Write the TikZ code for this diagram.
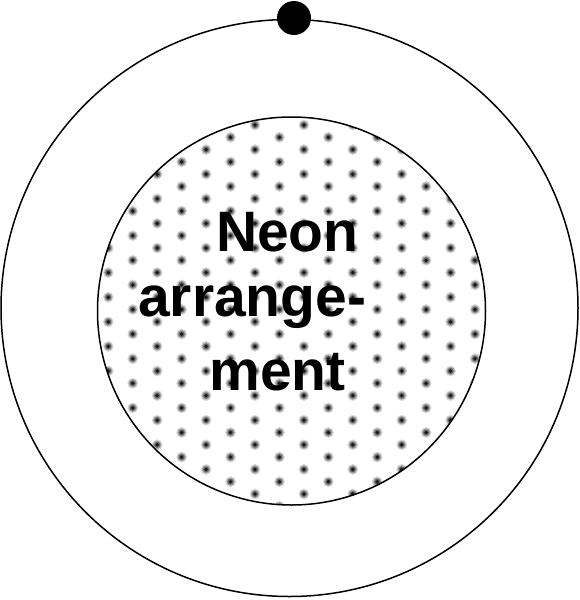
\documentclass[tikz,border=0pt]{standalone}
\usepackage{fontspec}
\setmainfont{Liberation Sans}
\begin{document}
\begin{tikzpicture}[x=1pt,y=-1pt,
  ring/.style={draw=black,line width=1.5pt},
  lbl/.style={anchor=base west,inner sep=0pt,font=\fontsize{57}{57}\selectfont\bfseries}]
\useasboundingbox (0,0) rectangle (580,600);
\fill[white] (0,0) rectangle (580,600);
% outer ring
\draw[ring] (289.5,308) circle[radius=288.5];
% inner dotted disc
\begin{scope}
\clip (291.5,311) circle[radius=194];
\foreach \k in {-2,...,32}{
  \foreach \c in {-5,...,5}{
    \pgfmathsetmacro{\xx}{255+\c*48.9+mod(abs(\k),2)*24.45}
    \pgfmathsetmacro{\yy}{125+\k*12.3}
    \fill[black!15] (\xx,\yy) circle[radius=5.4];
    \fill[black!35] (\xx,\yy) circle[radius=4.2];
    \fill[black!60] (\xx,\yy) circle[radius=3.0];
    \fill[black!90] (\xx,\yy) circle[radius=1.9];
  }
}
\end{scope}
\draw[ring] (291.5,311) circle[radius=194];
% electron
\fill[black] (294,18) circle[radius=17];
% label
\node[lbl] (l1) at (215.8,251.7) {Neon};
\node[lbl] (l2) at (138,316.7) {arrange-};
\node[lbl] (l3) at (209.4,390) {ment};
\end{tikzpicture}
\end{document}
